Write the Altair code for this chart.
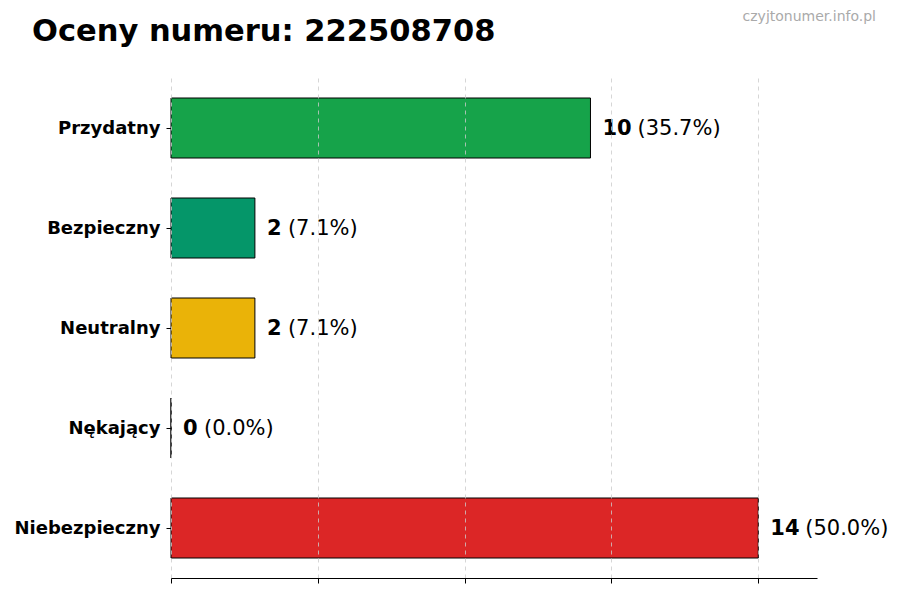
import altair as alt
import pandas as pd

categories = ["Przydatny", "Bezpieczny", "Neutralny", "Nękający", "Niebezpieczny"]
counts = [10, 2, 2, 0, 14]
percents = ["(35.7%)", "(7.1%)", "(7.1%)", "(0.0%)", "(50.0%)"]
bar_colors = ["#16a34a", "#059669", "#eab308", "#6b7280", "#dc2626"]
grid_values = [0, 3.5, 7, 10.5, 14]
title_text = "Oceny numeru: 222508708"
watermark = "czyjtonumer.info.pl"

df = pd.DataFrame({
    "cat": categories,
    "n": counts,
    "pct": percents,
    "color": bar_colors,
})
df["nstr"] = df["n"].astype(str)

FONT = "DejaVu Sans"
x_scale = alt.Scale(domain=[0, 15.4], nice=False, zero=True)
y_scale = alt.Scale(domain=categories, paddingInner=0.4, paddingOuter=0.2)

base = alt.Chart(df)

bars = base.mark_bar(stroke="black", strokeWidth=1).encode(
    x=alt.X("n:Q", scale=x_scale,
            axis=alt.Axis(values=grid_values, labels=False, title=None, grid=True,
                          gridDash=[4, 4], gridColor="#cccccc", gridWidth=0.8,
                          domainColor="black", domainWidth=1, tickColor="black",
                          tickSize=5, zindex=1)),
    y=alt.Y("cat:N", scale=y_scale, sort=categories,
            axis=alt.Axis(title=None, domain=False, tickColor="black", tickSize=5,
                          labelFont=FONT, labelFontWeight="bold", labelFontSize=18,
                          labelColor="black", labelPadding=6, labelOffset=1)),
    color=alt.Color("color:N", scale=None),
)

num_text = base.mark_text(align="left", baseline="middle", dx=12, dy=1, font=FONT,
                          fontWeight="bold", fontSize=21, color="black").encode(
    x=alt.X("n:Q", scale=x_scale),
    y=alt.Y("cat:N", scale=y_scale, sort=categories),
    text="nstr:N",
)

def pct_layer(ndig, dx):
    return base.transform_calculate(
        nd="length(datum.nstr)"
    ).transform_filter(alt.datum.nd == ndig).mark_text(
        align="left", baseline="middle", dx=dx, dy=1, font=FONT, fontSize=21,
        color="black"
    ).encode(
        x=alt.X("n:Q", scale=x_scale),
        y=alt.Y("cat:N", scale=y_scale, sort=categories),
        text="pct:N",
    )

pct1 = pct_layer(1, 33)
pct2 = pct_layer(2, 47)

title_df = pd.DataFrame({"t": [title_text]})
title_mark = alt.Chart(title_df).mark_text(
    align="left", baseline="alphabetic", font=FONT, fontWeight="bold",
    fontSize=30.5, color="black"
).encode(x=alt.value(-139), y=alt.value(-37), text="t:N")

wm_df = pd.DataFrame({"t": [watermark]})
wm_mark = alt.Chart(wm_df).mark_text(
    align="right", baseline="middle", font=FONT, fontSize=14, color="#aaaaaa"
).encode(x=alt.value(705), y=alt.value(-61), text="t:N")

chart = alt.layer(bars, num_text, pct1, pct2, title_mark, wm_mark).properties(
    width=646, height=500,
    autosize=alt.AutoSizeParams(type="none"),
    padding={"left": 163, "top": 70, "right": 75, "bottom": 14},
).configure_view(strokeOpacity=0)

chart.save("out.html", embed_options={"renderer": "svg", "actions": False})
